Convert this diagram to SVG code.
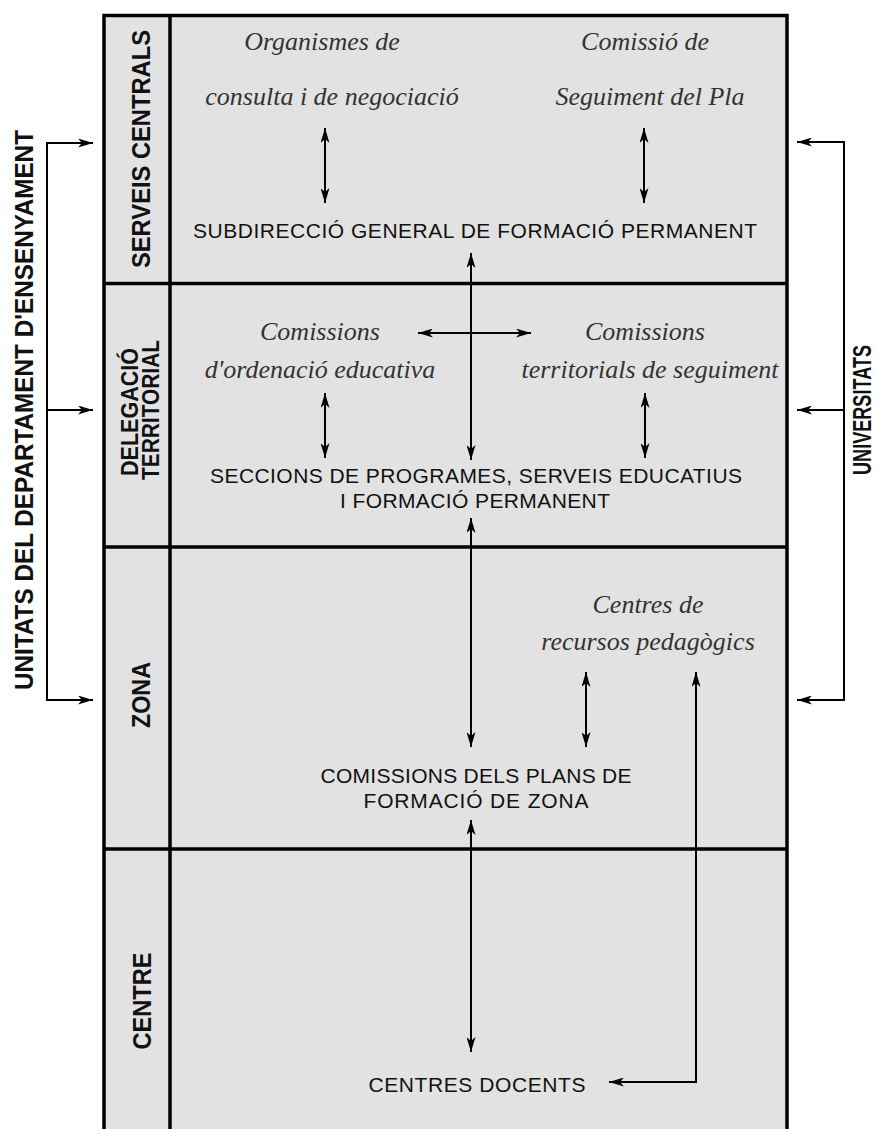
<svg xmlns="http://www.w3.org/2000/svg" width="877" height="1129" viewBox="0 0 877 1129">
  <defs>
    <marker id="ah" viewBox="0 0 15 9" refX="15" refY="4.5" markerWidth="15" markerHeight="9" markerUnits="userSpaceOnUse" orient="auto-start-reverse">
      <path d="M0,0 L15,4.5 L0,9 L4,4.5 z" fill="#000"/>
    </marker>
    <style>
      .frame { fill: none; stroke: #000; stroke-width: 3.5; }
      .band { fill: #e2e2e2; }
      .lvl { font-family: "Liberation Sans", Arial, sans-serif; font-weight: bold; font-size: 25px; fill: #111; text-anchor: middle; }
      .lvl2 { font-family: "Liberation Sans", Arial, sans-serif; font-weight: bold; font-size: 23px; fill: #111; text-anchor: middle; }
      .caps { font-family: "Liberation Sans", Arial, sans-serif; font-size: 21px; fill: #111; text-anchor: middle; }
      .it { font-family: "Liberation Serif", "Times New Roman", serif; font-style: italic; font-size: 26px; fill: #333; text-anchor: middle; }
      .con { fill: none; stroke: #000; stroke-width: 2; }
      .con2 { fill: none; stroke: #000; stroke-width: 2; marker-start: url(#ah); marker-end: url(#ah); }
      .con1 { fill: none; stroke: #000; stroke-width: 2; marker-end: url(#ah); }
    </style>
  </defs>

  <rect x="0" y="0" width="877" height="1129" fill="#fff"/>

  <!-- level bands -->
  <g id="bands">
    <rect class="band" x="104" y="15" width="683" height="1114"/>
    <path class="frame" d="M104,1129 V15.5 H787 V1129"/>
    <line class="frame" x1="170" y1="15" x2="170" y2="1129"/>
    <line class="frame" x1="104" y1="283.5" x2="787" y2="283.5"/>
    <line class="frame" x1="104" y1="547" x2="787" y2="547"/>
    <line class="frame" x1="104" y1="849" x2="787" y2="849"/>
  </g>

  <!-- level names -->
  <g id="level-serveis-centrals">
    <text class="lvl" transform="translate(150,149) rotate(-90)" textLength="238" lengthAdjust="spacingAndGlyphs">SERVEIS CENTRALS</text>
  </g>
  <g id="level-delegacio">
    <text class="lvl2" transform="translate(138,412) rotate(-90)" textLength="128" lengthAdjust="spacingAndGlyphs">DELEGACIÓ</text>
    <text class="lvl2" transform="translate(159,410) rotate(-90)" textLength="140" lengthAdjust="spacingAndGlyphs">TERRITORIAL</text>
  </g>
  <g id="level-zona">
    <text class="lvl" transform="translate(150,695) rotate(-90)" textLength="66" lengthAdjust="spacingAndGlyphs">ZONA</text>
  </g>
  <g id="level-centre">
    <text class="lvl" transform="translate(151,1001) rotate(-90)" textLength="97" lengthAdjust="spacingAndGlyphs">CENTRE</text>
  </g>

  <!-- side labels -->
  <g id="unitats">
    <text class="lvl" transform="translate(33,410) rotate(-90)" textLength="560" lengthAdjust="spacingAndGlyphs">UNITATS DEL DEPARTAMENT D'ENSENYAMENT</text>
  </g>
  <g id="universitats">
    <text class="lvl" transform="translate(871,410) rotate(-90)" textLength="130" lengthAdjust="spacingAndGlyphs">UNIVERSITATS</text>
  </g>

  <!-- bodies -->
  <g id="organismes">
    <text class="it" x="322" y="50">Organismes de</text>
    <text class="it" x="332" y="105">consulta i de negociació</text>
  </g>
  <g id="comissio-seguiment">
    <text class="it" x="645" y="50">Comissió de</text>
    <text class="it" x="650" y="105">Seguiment del Pla</text>
  </g>
  <g id="subdireccio">
    <text class="caps" x="475" y="238" textLength="564">SUBDIRECCIÓ GENERAL DE FORMACIÓ PERMANENT</text>
  </g>
  <g id="comissions-ordenacio">
    <text class="it" x="320" y="340">Comissions</text>
    <text class="it" x="320" y="378">d'ordenació educativa</text>
  </g>
  <g id="comissions-territorials">
    <text class="it" x="645" y="340">Comissions</text>
    <text class="it" x="650" y="378">territorials de seguiment</text>
  </g>
  <g id="seccions">
    <text class="caps" x="476" y="483" textLength="532">SECCIONS DE PROGRAMES, SERVEIS EDUCATIUS</text>
    <text class="caps" x="475" y="508" textLength="270">I FORMACIÓ PERMANENT</text>
  </g>
  <g id="crp">
    <text class="it" x="648" y="613">Centres de</text>
    <text class="it" x="648" y="650">recursos pedagògics</text>
  </g>
  <g id="comissions-zona">
    <text class="caps" x="476" y="783" textLength="311">COMISSIONS DELS PLANS DE</text>
    <text class="caps" x="476" y="808" textLength="225">FORMACIÓ DE ZONA</text>
  </g>
  <g id="centres-docents">
    <text class="caps" x="477" y="1092" textLength="217">CENTRES DOCENTS</text>
  </g>

  <!-- connectors -->
  <g id="connectors">
    <line class="con2" x1="325" y1="128" x2="325" y2="203"/>
    <line class="con2" x1="644" y1="128" x2="644" y2="203"/>
    <line class="con2" x1="471" y1="253" x2="471" y2="460"/>
    <line class="con2" x1="418" y1="333" x2="531" y2="333"/>
    <line class="con2" x1="325" y1="393" x2="325" y2="458"/>
    <line class="con2" x1="645" y1="393" x2="645" y2="458"/>
    <line class="con2" x1="471" y1="518" x2="471" y2="747"/>
    <line class="con2" x1="586" y1="672" x2="586" y2="747"/>
    <line class="con2" x1="471" y1="820" x2="471" y2="1052"/>
    <path class="con2" d="M609,1082 H696 V672"/>

    <path class="con" d="M93,143 H47 V700 H93"/>
    <line class="con1" x1="47" y1="143" x2="93" y2="143"/>
    <line class="con1" x1="47" y1="410" x2="93" y2="410"/>
    <line class="con1" x1="47" y1="700" x2="93" y2="700"/>

    <path class="con" d="M797,142 H844 V700 H797"/>
    <line class="con1" x1="844" y1="142" x2="797" y2="142"/>
    <line class="con1" x1="844" y1="410" x2="797" y2="410"/>
    <line class="con1" x1="844" y1="700" x2="797" y2="700"/>
  </g>
</svg>
